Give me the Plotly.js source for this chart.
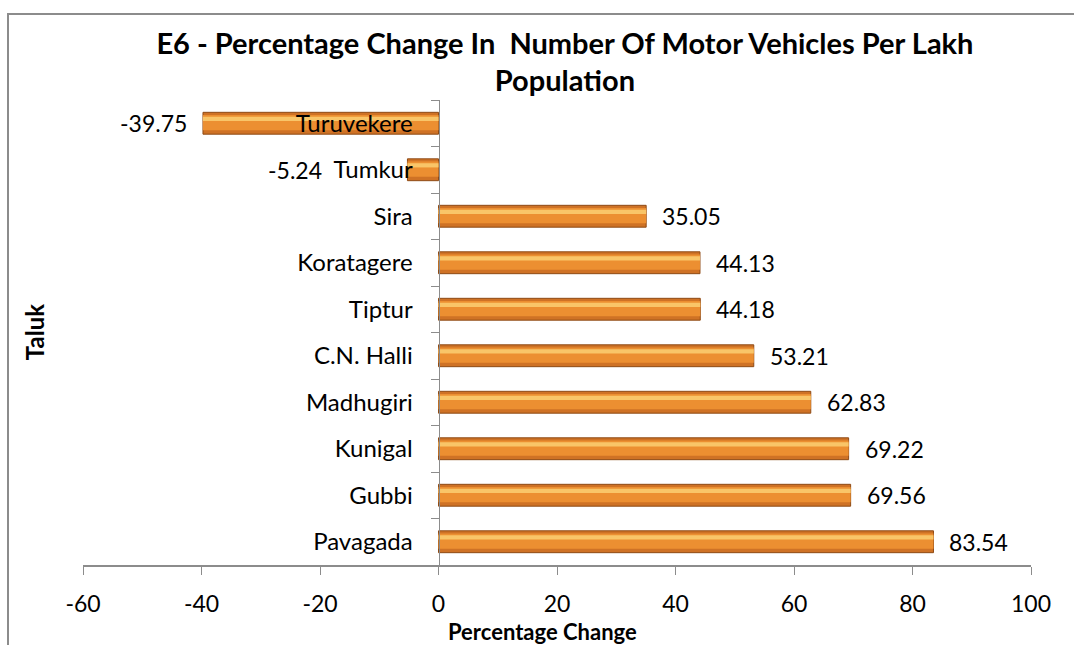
<!DOCTYPE html>
<html>
<head>
<meta charset="utf-8">
<script src="https://cdn.plot.ly/plotly-3.0.1.min.js"></script>
<style>
html,body{margin:0;padding:0;overflow:hidden;background:#fff;}
#chart{position:absolute;left:0;top:0;width:1074px;height:645px;}
#frame{position:absolute;left:7px;top:13px;width:1200px;height:800px;border:2.5px solid #8c8c8c;pointer-events:none;}
</style>
</head>
<body>
<div id="chart"></div>
<div id="frame"></div>
<script>
const taluks = ["Pavagada","Gubbi","Kunigal","Madhugiri","C.N. Halli","Tiptur","Koratagere","Sira","Tumkur","Turuvekere"];
const pctChange = [83.54,69.56,69.22,62.83,53.21,44.18,44.13,35.05,-5.24,-39.75];
const xTicks = [-60,-40,-20,0,20,40,60,80,100];

const FONT = "Lato, 'Open Sans', sans-serif";

const base = {
  type:"bar", orientation:"h", y:taluks, x:pctChange, width:0.47,
  marker:{color:"#CF7225", line:{color:"#8E4A15", width:1}},
  hoverinfo:"x+y", textposition:"none"
};
const mid = {
  type:"bar", orientation:"h", y:taluks, x:pctChange, width:0.33, offset:-0.15,
  marker:{color:"#EC8F31", line:{width:0}}, hoverinfo:"skip", textposition:"none"
};
const shine = {
  type:"bar", orientation:"h", y:taluks, x:pctChange, width:0.09, offset:0.05,
  marker:{color:"#F9C568", line:{width:0}}, hoverinfo:"skip", textposition:"none"
};

// data labels: right of positive bars, left of negative bars (kept clear of the category labels)
const labels = taluks.map((t,i)=>{
  const v = pctChange[i];
  return {
    text: v.toFixed(2), x: v >= 0 ? v : Math.min(v, -17), y: t, xref:"x", yref:"y",
    showarrow:false, xanchor: v >= 0 ? "left" : "right", yanchor:"middle",
    xshift: v >= 0 ? 14 : -14, font:{family:FONT, size:23, color:"#000"}
  };
});

const layout = {
  width:1074, height:645,
  margin:{l:83, r:43, t:100, b:80},
  paper_bgcolor:"#fff", plot_bgcolor:"#fff",
  showlegend:false, barmode:"overlay",
  font:{family:FONT, color:"#000"},
  title:{text:"<b>E6 - Percentage Change In  Number Of Motor Vehicles Per Lakh<br>Population</b>",
         font:{family:FONT, size:29, color:"#000"}, x:0.526, xanchor:"center", y:0.917, yanchor:"middle"},
  xaxis:{range:[-60,100], tickvals:xTicks, ticktext:xTicks.map(String),
         showgrid:false, zeroline:false, showline:true, linecolor:"#8c8c8c", linewidth:1.5,
         ticks:"outside", ticklen:8, tickcolor:"#8c8c8c", tickfont:{family:FONT, size:23},
         ticklabelstandoff:10},
  yaxis:{type:"category", anchor:"free", position:0.375, showgrid:false, zeroline:false,
         showline:true, linecolor:"#8c8c8c", linewidth:1.5, ticks:"outside", ticklen:8,
         tickcolor:"#8c8c8c", tickson:"boundaries", ticklabelstandoff:21,
         tickfont:{family:FONT, size:24}, range:[-0.5,9.5]},
  annotations: labels.concat([
    {text:"<b>Taluk</b>", xref:"paper", yref:"paper", x:-0.051, y:0.5,
     textangle:-90, showarrow:false, font:{family:FONT, size:24}, xanchor:"center", yanchor:"middle"},
    {text:"<b>Percentage Change</b>", xref:"paper", yref:"paper", x:0.485, y:-0.142,
     showarrow:false, font:{family:FONT, size:22}, xanchor:"center", yanchor:"middle"}
  ])
};

Plotly.newPlot("chart",[base, mid, shine],layout,{displayModeBar:false, staticPlot:true});
</script>
</body>
</html>
